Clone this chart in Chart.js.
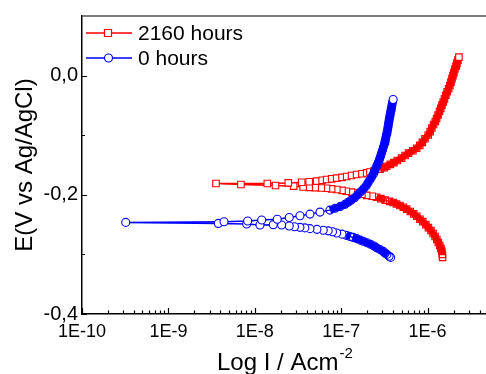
<!DOCTYPE html>
<html>
<head>
<meta charset="utf-8">
<script src="https://cdn.jsdelivr.net/npm/chart.js@4.4.1/dist/chart.umd.min.js"></script>
<style>
  body { margin: 0; background: #fff; }
  #wrap { width: 486px; height: 374px; }
</style>
</head>
<body>
<div id="wrap"><canvas id="tafel" width="486" height="374"></canvas></div>
<script>
// values: potential (V) and log10 of current density (A/cm2), in scan order
const seriesNames = ['2160 hours', '0 hours'];

const redPotential = [
  -0.305, -0.300, -0.295, -0.290, -0.285, -0.280, -0.275, -0.270, -0.265, -0.260,
  -0.255, -0.250, -0.245, -0.241, -0.236, -0.232, -0.228, -0.224, -0.221, -0.218,
  -0.2155, -0.213, -0.211, -0.209, -0.2065, -0.204, -0.2025, -0.201, -0.199, -0.197,
  -0.1955, -0.194, -0.1925, -0.191, -0.190, -0.189, -0.1885, -0.188, -0.1875, -0.187,
  -0.1855, -0.1845, -0.1826, -0.181, -0.181, -0.180, -0.179, -0.178, -0.177, -0.1757,
  -0.1743, -0.1732, -0.1721, -0.1707, -0.1693, -0.1677, -0.166, -0.1647, -0.1633, -0.1617,
  -0.160, -0.157, -0.1545, -0.152, -0.149, -0.146, -0.1425, -0.1384, -0.134, -0.130,
  -0.126, -0.1218, -0.117, -0.112, -0.106, -0.0996, -0.094, -0.088, -0.082, -0.077,
  -0.072, -0.066, -0.060, -0.055, -0.0495, -0.0443, -0.039, -0.033, -0.027, -0.022,
  -0.0166, -0.011, -0.005, 0.000, 0.005, 0.011, 0.016, 0.021, 0.026, 0.031
];
const redLogCurrent = [
  -5.826, -5.829, -5.834, -5.845, -5.858, -5.875, -5.893, -5.913, -5.936, -5.960,
  -5.990, -6.020, -6.055, -6.088, -6.125, -6.160, -6.200, -6.242, -6.280, -6.320,
  -6.360, -6.397, -6.440, -6.490, -6.540, -6.590, -6.640, -6.705, -6.760, -6.820,
  -6.880, -6.940, -6.990, -7.050, -7.110, -7.170, -7.230, -7.300, -7.370, -7.440,
  -7.550, -7.760, -8.160, -8.449, -7.855, -7.612, -7.457, -7.370, -7.284, -7.220,
  -7.168, -7.110, -7.052, -6.990, -6.936, -6.880, -6.821, -6.760, -6.705, -6.667,
  -6.620, -6.550, -6.500, -6.473, -6.430, -6.390, -6.350, -6.300, -6.260, -6.220,
  -6.170, -6.126, -6.090, -6.060, -6.030, -5.992, -5.970, -5.950, -5.930, -5.910,
  -5.895, -5.878, -5.862, -5.847, -5.833, -5.818, -5.804, -5.788, -5.773, -5.756,
  -5.741, -5.729, -5.717, -5.706, -5.695, -5.683, -5.670, -5.660, -5.648, -5.637
];

const bluePotential = [
  -0.305, -0.303, -0.300, -0.298, -0.295, -0.292, -0.289, -0.286, -0.283, -0.2805,
  -0.278, -0.276, -0.2735, -0.2715, -0.270, -0.268, -0.266, -0.264, -0.262, -0.2605,
  -0.2596, -0.258, -0.2568, -0.2555, -0.2546, -0.2535, -0.2523, -0.2507, -0.2501, -0.2506,
  -0.249, -0.248, -0.2463, -0.2451, -0.244, -0.2423, -0.241, -0.238, -0.2352, -0.2324,
  -0.229, -0.2257, -0.2225, -0.2195, -0.216, -0.2125, -0.209, -0.205, -0.200, -0.195,
  -0.190, -0.185, -0.180, -0.175, -0.170, -0.165, -0.160, -0.155, -0.150, -0.145,
  -0.140, -0.135, -0.130, -0.125, -0.120, -0.115, -0.110, -0.105, -0.100, -0.095,
  -0.090, -0.085, -0.080, -0.075, -0.070, -0.065, -0.060, -0.055, -0.050, -0.045,
  -0.040
];
const blueLogCurrent = [
  -6.427, -6.445, -6.470, -6.490, -6.513, -6.550, -6.589, -6.620, -6.660, -6.700,
  -6.744, -6.780, -6.820, -6.860, -6.898, -6.940, -6.990, -7.052, -7.100, -7.150,
  -7.207, -7.280, -7.361, -7.420, -7.477, -7.540, -7.601, -7.689, -7.786, -7.940,
  -8.094, -8.422, -9.494, -8.356, -8.082, -7.920, -7.740, -7.601, -7.477, -7.361,
  -7.245, -7.130, -7.070, -7.010, -6.955, -6.920, -6.885, -6.845, -6.810, -6.775,
  -6.740, -6.710, -6.690, -6.668, -6.648, -6.627, -6.612, -6.598, -6.583, -6.568,
  -6.555, -6.543, -6.532, -6.521, -6.511, -6.500, -6.492, -6.484, -6.477, -6.469,
  -6.462, -6.456, -6.451, -6.445, -6.439, -6.433, -6.426, -6.420, -6.413, -6.406,
  -6.398
];

const xTickExponents = [-10, -9, -8, -7, -6];
const yTickValues = [-0.4, -0.2, 0.0];
const yMinorValues = [-0.3, -0.1];

const FONT = '"Liberation Sans", Arial, sans-serif';

const toPoints = (logI, E) => logI.map((v, i) => ({ x: Math.pow(10, v), y: E[i] }));

// packed, steep runs of markers merge into a solid band in the original
function isPacked(a, b) {
  const dx = Math.abs(b[0] - a[0]), dy = Math.abs(b[1] - a[1]);
  return Math.hypot(dx, dy) < 6 && dy >= 0.3 * dx;
}

function pixelOf(chart, p) {
  return [chart.scales.x.getPixelForValue(p.x), chart.scales.y.getPixelForValue(p.y)];
}

function markerFill(ctx) {
  if (ctx.type !== 'data') return '#fff';
  const data = ctx.dataset.data;
  const i = ctx.dataIndex;
  if (i === 0 || i === data.length - 1) return '#fff';
  const chart = ctx.chart;
  if (!chart.scales.x || !chart.scales.y) return '#fff';
  const a = pixelOf(chart, data[i]);
  const packed = [i - 1, i + 1].some(j => data[j] && isPacked(a, pixelOf(chart, data[j])));
  return packed ? 'rgba(255,255,255,0)' : '#fff';
}

const bandWidth = w => ctx => (isPacked([ctx.p0.x, ctx.p0.y], [ctx.p1.x, ctx.p1.y]) ? w : 1.5);

const decor = {
  id: 'decor',
  afterDraw(chart) {
    const ctx = chart.ctx;
    const area = chart.chartArea;
    const sx = chart.scales.x, sy = chart.scales.y;
    ctx.save();

    // top frame line
    ctx.strokeStyle = '#555';
    ctx.lineWidth = 1.5;
    ctx.beginPath();
    ctx.moveTo(area.left, area.top);
    ctx.lineTo(chart.width, area.top);
    ctx.stroke();

    // inward ticks
    ctx.strokeStyle = '#000';
    ctx.lineWidth = 1.2;
    ctx.beginPath();
    xTickExponents.forEach(e => {
      for (let m = 1; m <= 9; m++) {
        const v = m * Math.pow(10, e);
        if (v > sx.max) continue;
        const px = Math.round(sx.getPixelForValue(v)) + 0.5;
        const len = m === 1 ? 6 : 3.5;
        ctx.moveTo(px, area.bottom);
        ctx.lineTo(px, area.bottom - len);
      }
    });
    yTickValues.forEach(v => {
      const py = Math.round(sy.getPixelForValue(v)) + 0.5;
      ctx.moveTo(area.left, py);
      ctx.lineTo(area.left + 5, py);
    });
    yMinorValues.forEach(v => {
      const py = Math.round(sy.getPixelForValue(v)) + 0.5;
      ctx.moveTo(area.left, py);
      ctx.lineTo(area.left + 3, py);
    });
    ctx.stroke();

    // legend
    chart.data.datasets.forEach((ds, i) => {
      const y = 33 + i * 25;
      ctx.strokeStyle = ds.borderColor;
      ctx.lineWidth = 1.5;
      ctx.beginPath();
      ctx.moveTo(86, y);
      ctx.lineTo(132, y);
      ctx.stroke();
      ctx.fillStyle = '#fff';
      ctx.lineWidth = 1.2;
      ctx.beginPath();
      if (ds.pointStyle === 'rect') {
        ctx.rect(104.5, y - 3.5, 7, 7);
      } else {
        ctx.arc(108.5, y, 4, 0, Math.PI * 2);
      }
      ctx.fill();
      ctx.stroke();
      ctx.fillStyle = '#000';
      ctx.font = '21px ' + FONT;
      ctx.textBaseline = 'middle';
      ctx.textAlign = 'left';
      ctx.fillText(ds.label, 138, y + 1);
    });

    // axis titles
    ctx.fillStyle = '#000';
    ctx.textBaseline = 'alphabetic';
    ctx.font = '24px ' + FONT;
    ctx.textAlign = 'left';
    const xt = 'Log I / Acm';
    ctx.fillText(xt, 217, 370);
    const w = ctx.measureText(xt).width;
    ctx.font = '15px ' + FONT;
    ctx.fillText('-2', 217 + w + 1, 358);

    ctx.save();
    ctx.translate(32, (area.top + area.bottom) / 2);
    ctx.rotate(-Math.PI / 2);
    ctx.font = '24px ' + FONT;
    ctx.textAlign = 'center';
    ctx.fillText('E(V vs Ag/AgCl)', 0, 0);
    ctx.restore();

    ctx.restore();
  }
};

new Chart(document.getElementById('tafel'), {
  type: 'scatter',
  data: {
    datasets: [
      {
        label: seriesNames[0],
        data: toPoints(redLogCurrent, redPotential),
        showLine: true,
        borderColor: '#ff0000',
        borderWidth: 1.5,
        segment: { borderWidth: bandWidth(6.5) },
        pointStyle: 'rect',
        pointRadius: 4.6,
        pointBorderWidth: 1.1,
        pointBorderColor: '#ff0000',
        pointBackgroundColor: markerFill,
        order: 1
      },
      {
        label: seriesNames[1],
        data: toPoints(blueLogCurrent, bluePotential),
        showLine: true,
        borderColor: '#0000ff',
        borderWidth: 1.5,
        segment: { borderWidth: bandWidth(7) },
        pointStyle: 'circle',
        pointRadius: 4,
        pointBorderWidth: 1.1,
        pointBorderColor: '#0000ff',
        pointBackgroundColor: markerFill,
        order: 0
      }
    ]
  },
  options: {
    responsive: false,
    animation: false,
    layout: { autoPadding: false, padding: { top: 14, right: 0, left: 0, bottom: 0 } },
    scales: {
      x: {
        type: 'logarithmic',
        min: 1e-10,
        max: 4.75e-6,
        grid: { display: false, drawTicks: false },
        border: { display: true, color: '#000', width: 1.5 },
        afterBuildTicks: scale => {
          scale.ticks = xTickExponents.map(e => ({ value: Math.pow(10, e) }));
        },
        afterFit: scale => { scale.height = 60; },
        ticks: {
          autoSkip: false,
          maxRotation: 0,
          padding: 7,
          color: '#000',
          font: { family: FONT, size: 18 },
          callback: value => '1E' + Math.round(Math.log10(value))
        }
      },
      y: {
        type: 'linear',
        min: -0.4,
        max: 0.1,
        grid: { display: false, drawTicks: false },
        border: { display: true, color: '#000', width: 1.5 },
        afterBuildTicks: scale => {
          scale.ticks = yTickValues.map(v => ({ value: v }));
        },
        afterFit: scale => { scale.width = 82; },
        ticks: {
          padding: 4,
          color: '#000',
          font: { family: FONT, size: 20 },
          callback: value => value.toFixed(1).replace('.', ',')
        }
      }
    },
    plugins: {
      legend: { display: false },
      tooltip: { enabled: false }
    }
  },
  plugins: [decor]
});
</script>
</body>
</html>
